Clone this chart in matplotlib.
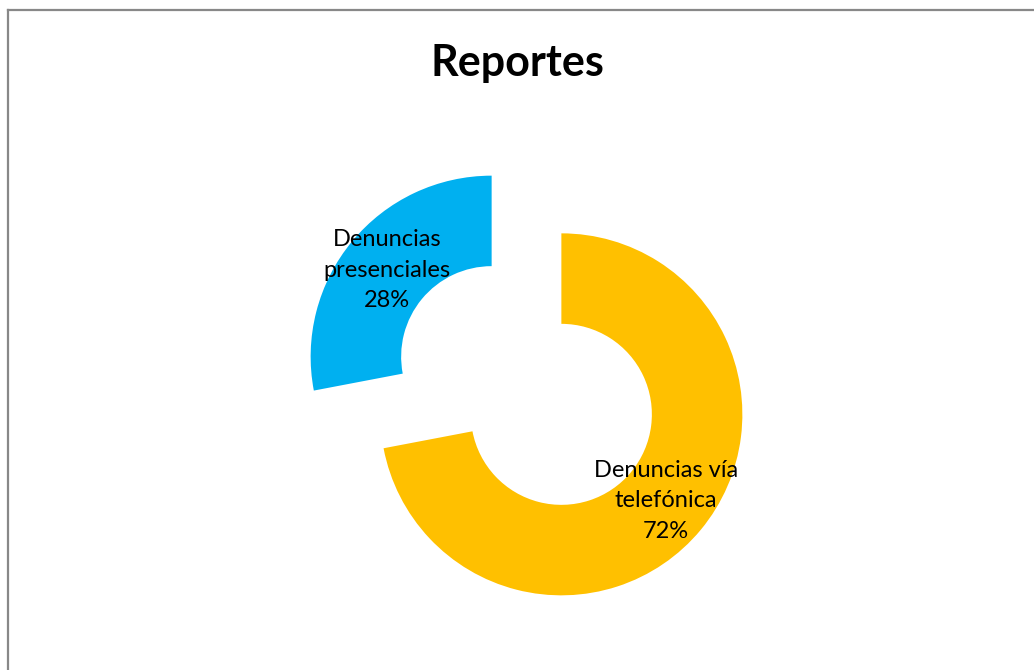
import math
import matplotlib.pyplot as plt
from matplotlib.lines import Line2D

plt.rcParams['font.family'] = ['Lato', 'DejaVu Sans']

# data
categories = ['Denuncias vía\ntelefónica', 'Denuncias\npresenciales']
values = [72, 28]
colors = ['#FFC000', '#00B0F0']

W, H = 1034, 670
fig = plt.figure(figsize=(W / 100, H / 100), dpi=100)
ax = fig.add_axes([0, 0, 1, 1])

wedges, _ = ax.pie(values, colors=colors, startangle=90, counterclock=False,
                   explode=[0.25, 0.25], radius=1.0,
                   wedgeprops=dict(width=0.5, linewidth=0))

# ring geometry in px (pie resets limits, so set them afterwards)
R = 181.0
cx, cy = 526.5, 385.5  # centre from the top-left corner
ax.set_xlim(-cx / R, (W - cx) / R)
ax.set_ylim(-(H - cy) / R, cy / R)
ax.set_aspect('equal')
ax.axis('off')

total = sum(values)
for w, cat, v in zip(wedges, categories, values):
    mid = math.radians((w.theta1 + w.theta2) / 2)
    x = w.center[0] + 0.75 * math.cos(mid)
    y = w.center[1] + 0.75 * math.sin(mid)
    ax.text(x, y, f'{cat}\n{round(100 * v / total)}%', ha='center', va='center',
            fontsize=17, linespacing=1.55, color='black')

fig.text(0.5, 1 - 63 / H, 'Reportes', ha='center', va='center',
         fontsize=31, fontweight='bold')

# chart frame
fig.add_artist(Line2D([7.5 / W, 7.5 / W], [0, 1 - 10 / H], color='#888888', lw=1.6))
fig.add_artist(Line2D([7.5 / W, 1], [1 - 10 / H, 1 - 10 / H], color='#888888', lw=1.6))

fig.savefig('out.png', dpi=100)
